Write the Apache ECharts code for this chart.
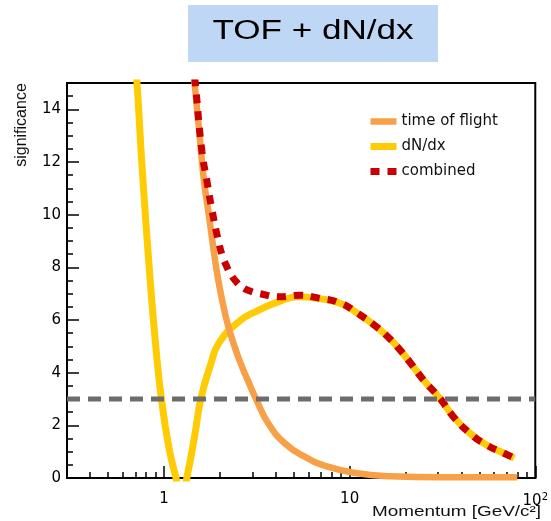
<!DOCTYPE html>
<html>
<head>
<meta charset="utf-8">
<script src="https://cdn.jsdelivr.net/npm/echarts@6/dist/echarts.min.js"></script>
<style>
  html, body { margin: 0; padding: 0; background: #ffffff; }
  #chart { width: 551px; height: 521px; }
</style>
</head>
<body>
<div id="chart"></div>
<script>
// Axis ranges and ticks
const momentumRange = [0.3, 100];
const significanceRange = [0, 15];
const xMajorTicks = [1, 10, 100];
const xMinorTicks = [0.4, 0.5, 0.6, 0.7, 0.8, 0.9, 2, 3, 4, 5, 6, 7, 8, 9, 20, 30, 40, 50, 60, 70, 80, 90];
const yMajorTicks = [0, 2, 4, 6, 8, 10, 12, 14];
const yMinorTicks = [0.5, 1, 1.5, 2.5, 3, 3.5, 4.5, 5, 5.5, 6.5, 7, 7.5, 8.5, 9, 9.5, 10.5, 11, 11.5, 12.5, 13, 13.5, 14.5];

// Separation power vs momentum
const dndxMomentum = [0.70, 0.715, 0.76, 0.842, 0.903, 0.967, 1.06, 1.155, 1.24, 1.33, 1.46, 1.58, 1.79, 1.97, 2.52, 3.22, 4.12, 5.27, 6.74, 8.94, 11.0, 13.6, 16.4, 18.7, 21.7, 25, 30.6, 36.4, 44.4, 54.7, 67.4, 77];
const dndxSignificance = [15.6, 15.0, 11.9, 7.5, 4.98, 3.02, 1.19, 0.05, -0.8, 0.05, 1.57, 3.02, 4.35, 5.11, 5.93, 6.37, 6.69, 6.88, 6.82, 6.63, 6.26, 5.8, 5.3, 4.86, 4.29, 3.72, 3.03, 2.31, 1.7, 1.25, 0.95, 0.76];

const tofMomentum = [1.40, 1.46, 1.55, 1.64, 1.75, 1.85, 1.95, 2.07, 2.2, 2.37, 2.57, 2.85, 3.15, 3.64, 4.47, 5.72, 7.62, 11.0, 16.6, 30, 80];
const tofSignificance = [16.4, 15.0, 13.1, 11.3, 9.9, 8.65, 7.6, 6.65, 5.85, 5.1, 4.4, 3.65, 2.96, 2.08, 1.32, 0.81, 0.43, 0.18, 0.07, 0.03, 0.03];

const combinedMomentum = [1.40, 1.48, 1.6, 1.7, 1.81, 1.97, 2.07, 2.17, 2.27, 2.45, 2.62, 2.9, 3.29, 4.21, 5.38, 6.74, 8.94, 11.0, 13.6, 16.4, 18.7, 21.7, 25, 30.6, 36.4, 44.4, 54.7, 67.4, 77];
const combinedSignificance = [16.5, 14.85, 12.4, 11.3, 10.2, 8.95, 8.4, 8.05, 7.77, 7.45, 7.26, 7.1, 7.0, 6.88, 6.94, 6.84, 6.64, 6.26, 5.8, 5.3, 4.86, 4.29, 3.72, 3.03, 2.31, 1.7, 1.25, 0.95, 0.76];

const thresholdSignificance = 3;

const seriesNames = ['time of flight', 'dN/dx', 'combined'];

// The momentum axis is logarithmic: positions are placed in log10 space
const lg = v => Math.log10(v);
const toPoints = (xs, ys) => xs.map((x, i) => [lg(x), ys[i]]);

const colors = {
  tof: '#F8A048',
  dndx: '#FECB05',
  combined: '#C80000',
  threshold: '#6C6C6C'
};

const labelFont = 'DejaVu Sans';

const chart = echarts.init(document.getElementById('chart'), null, { renderer: 'canvas' });

chart.setOption({
  animation: false,
  backgroundColor: '#ffffff',
  grid: {
    left: 67, right: 12, top: 83, bottom: 43,
    show: true, borderColor: '#000', borderWidth: 2, backgroundColor: 'transparent'
  },
  xAxis: [
    {
      type: 'value', min: lg(momentumRange[0]), max: lg(momentumRange[1]), position: 'bottom',
      axisLine: { show: true, onZero: false, lineStyle: { color: '#000', width: 2 } },
      axisTick: { show: true, inside: true, length: 12, customValues: xMajorTicks.map(lg), lineStyle: { color: '#000', width: 1.5 } },
      axisLabel: {
        show: true, margin: 14, customValues: xMajorTicks.map(lg),
        color: '#000', fontFamily: labelFont, fontSize: 15,
        formatter: v => {
          const p = Math.round(Math.pow(10, v));
          return p >= 100 ? '{b|10}{s|2}' : String(p);
        },
        rich: {
          b: { fontFamily: labelFont, fontSize: 15, color: '#000' },
          s: { fontFamily: labelFont, fontSize: 10, color: '#000', verticalAlign: 'top', padding: [0, 0, 8, 0] }
        }
      },
      splitLine: { show: false }
    },
    {
      type: 'value', min: lg(momentumRange[0]), max: lg(momentumRange[1]), position: 'bottom',
      axisLine: { show: false, onZero: false },
      axisTick: { show: true, inside: true, length: 6, customValues: xMinorTicks.map(lg), lineStyle: { color: '#000', width: 1.5 } },
      axisLabel: { show: false },
      splitLine: { show: false }
    }
  ],
  yAxis: [
    {
      type: 'value', min: significanceRange[0], max: significanceRange[1], position: 'left',
      axisLine: { show: true, onZero: false, lineStyle: { color: '#000', width: 2 } },
      axisTick: { show: true, inside: true, length: 12, customValues: yMajorTicks, lineStyle: { color: '#000', width: 1.5 } },
      axisLabel: { show: true, margin: 6, customValues: yMajorTicks, color: '#000', fontFamily: labelFont, fontSize: 15 },
      splitLine: { show: false }
    },
    {
      type: 'value', min: significanceRange[0], max: significanceRange[1], position: 'left',
      axisLine: { show: false, onZero: false },
      axisTick: { show: true, inside: true, length: 6, customValues: yMinorTicks, lineStyle: { color: '#000', width: 1.5 } },
      axisLabel: { show: false },
      splitLine: { show: false }
    }
  ],
  legend: {
    orient: 'vertical', left: 362, top: 109,
    itemWidth: 26, itemHeight: 14, itemGap: 10,
    data: seriesNames,
    textStyle: { fontFamily: labelFont, fontSize: 15, color: '#111', lineHeight: 14 },
    lineStyle: { width: 'inherit' },
    itemStyle: { opacity: 0 }
  },
  series: [
    {
      name: seriesNames[1], type: 'line', symbol: 'none', smooth: 0.5, z: 2,
      data: toPoints(dndxMomentum, dndxSignificance),
      lineStyle: { color: colors.dndx, width: 7, cap: 'butt' },
      itemStyle: { color: colors.dndx }
    },
    {
      name: seriesNames[0], type: 'line', symbol: 'none', smooth: 0.5, z: 3,
      data: toPoints(tofMomentum, tofSignificance),
      lineStyle: { color: colors.tof, width: 6.5, cap: 'butt' },
      itemStyle: { color: colors.tof }
    },
    {
      name: seriesNames[2], type: 'line', symbol: 'none', smooth: 0.5, z: 4,
      data: toPoints(combinedMomentum, combinedSignificance),
      lineStyle: { color: colors.combined, width: 7, type: [9, 8], cap: 'butt' },
      itemStyle: { color: colors.combined }
    },
    {
      name: 'threshold', type: 'line', symbol: 'none', z: 5, silent: true,
      data: toPoints(momentumRange, [thresholdSignificance, thresholdSignificance]),
      lineStyle: { color: colors.threshold, width: 5, type: [13, 8], cap: 'butt' }
    }
  ],
  graphic: [
    {
      type: 'rect', left: 188, top: 5, shape: { width: 250, height: 57 },
      style: { fill: '#BED7F5' }, z: 10
    },
    {
      type: 'text', x: 313, y: 32, scaleX: 1.3, z: 11,
      style: { text: 'TOF + dN/dx', fill: '#000', font: '27px "Liberation Sans", Arial, sans-serif', align: 'center', verticalAlign: 'middle' }
    },
    {
      type: 'text', x: 22, y: 125, rotation: Math.PI / 2, z: 11,
      style: { text: 'significance', fill: '#111', font: '16px "Liberation Sans", Arial, sans-serif', align: 'center', verticalAlign: 'middle' }
    },
    {
      type: 'text', x: 541, y: 512, scaleX: 1.35, z: 11,
      style: { text: 'Momentum [GeV/c²]', fill: '#111', font: '14px "Liberation Sans", Arial, sans-serif', align: 'right', verticalAlign: 'middle' }
    }
  ]
});
</script>
</body>
</html>
